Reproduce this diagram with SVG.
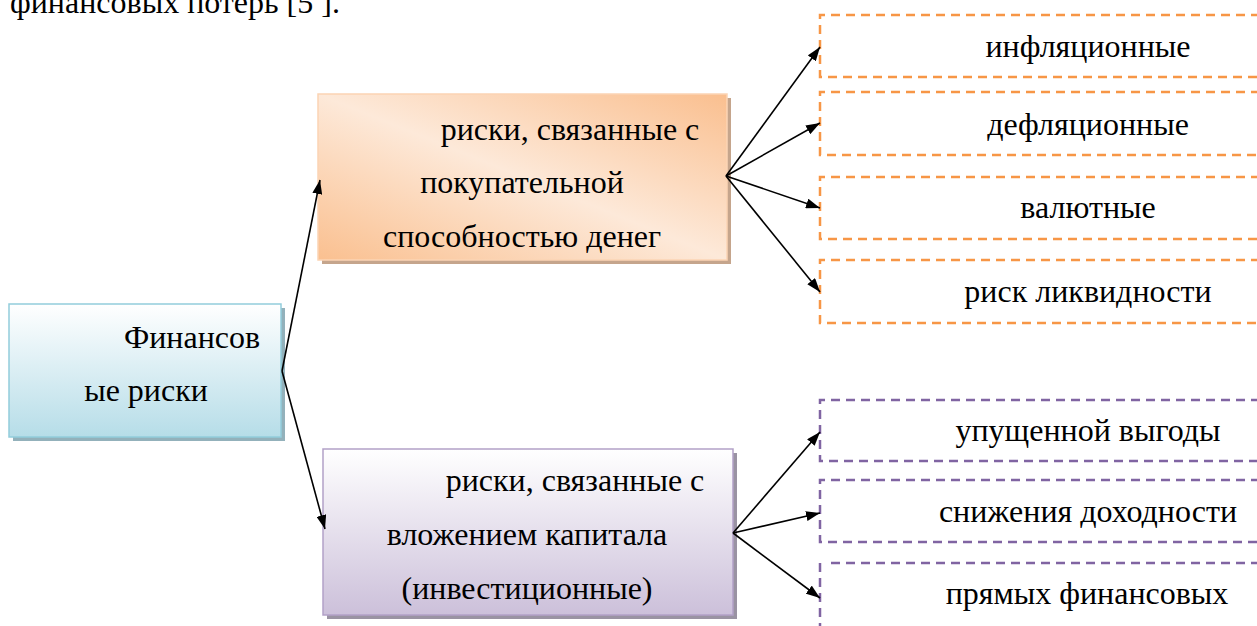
<svg xmlns="http://www.w3.org/2000/svg" width="1257" height="626" viewBox="0 0 1257 626">
<defs>
<linearGradient id="gBlue" x1="0" y1="0" x2="0" y2="1">
<stop offset="0" stop-color="#ffffff"/><stop offset="1" stop-color="#b6dde8"/>
</linearGradient>
<linearGradient id="gOrange" x1="1" y1="0" x2="0" y2="1">
<stop offset="0" stop-color="#fabf8f"/><stop offset="0.5" stop-color="#fde9d9"/><stop offset="1" stop-color="#fac090"/>
</linearGradient>
<linearGradient id="gPurple" x1="0" y1="0" x2="0" y2="1">
<stop offset="0" stop-color="#ffffff"/><stop offset="1" stop-color="#ccc0da"/>
</linearGradient>
<marker id="arr" viewBox="0 0 14 10" refX="14" refY="5" markerWidth="14" markerHeight="10" markerUnits="userSpaceOnUse" orient="auto">
<path d="M0,0 L14,5 L0,10 z" fill="#000"/>
</marker>
<style>
text{font-family:'Liberation Serif','Times New Roman',serif;font-size:32px;fill:#000}
.c{text-anchor:middle}
.conn{stroke:#000;stroke-width:1.6;fill:none;marker-end:url(#arr)}
.dO{fill:none;stroke:#f79646;stroke-width:2.5;stroke-dasharray:9 6}
.dP{fill:none;stroke:#8064a2;stroke-width:2.5;stroke-dasharray:9 6}
</style>
</defs>
<rect width="1257" height="626" fill="#fff"/>
<text x="10" y="13">финансовых потерь [5 ].</text>

<g id="node-fin">
<rect x="13" y="308" width="272" height="133" fill="#93b1bb"/>
<rect x="9" y="304" width="272" height="133" fill="url(#gBlue)" stroke="#92cddc" stroke-width="1.5"/>
<text x="192" y="348" class="c">Финансов</text>
<text x="146" y="401" class="c">ые риски</text>
</g>

<g id="node-purchase">
<rect x="322" y="98" width="409" height="166" fill="#c5a58c"/>
<rect x="318" y="94" width="409" height="166" fill="url(#gOrange)" stroke="#fbd4b4" stroke-width="1.5"/>
<text x="570" y="140" class="c">риски, связанные с</text>
<text x="522" y="193" class="c">покупательной</text>
<text x="522" y="247" class="c">способностью денег</text>
</g>

<g id="node-invest">
<rect x="327" y="453" width="410" height="166" fill="#9a93a3"/>
<rect x="323" y="449" width="410" height="166" fill="url(#gPurple)" stroke="#b2a1c7" stroke-width="1.5"/>
<text x="575" y="491" class="c">риски, связанные с</text>
<text x="527" y="545" class="c">вложением капитала</text>
<text x="527" y="599" class="c">(инвестиционные)</text>
</g>

<g id="node-infl"><path class="dO" d="M1260,15 H820 V77 H1260"/><text x="1088" y="57" class="c">инфляционные</text></g>
<g id="node-defl"><path class="dO" d="M1260,92 H820 V155 H1260"/><text x="1088" y="135" class="c">дефляционные</text></g>
<g id="node-val"><path class="dO" d="M1260,177 H820 V239 H1260"/><text x="1088" y="218" class="c">валютные</text></g>
<g id="node-liq"><path class="dO" d="M1260,260 H820 V323 H1260"/><text x="1088" y="302" class="c">риск ликвидности</text></g>
<g id="node-lost"><path class="dP" d="M1260,400 H820 V461 H1260"/><text x="1088" y="441" class="c">упущенной выгоды</text></g>
<g id="node-yield"><path class="dP" d="M1260,480 H820 V542 H1260"/><text x="1088" y="522" class="c">снижения доходности</text></g>
<g id="node-direct"><path class="dP" d="M1260,563 H826 M820,563 V630"/><text x="1087" y="604" class="c">прямых финансовых</text></g>

<g id="connectors">
<line class="conn" x1="282" y1="371" x2="320" y2="180"/>
<line class="conn" x1="282" y1="371" x2="325" y2="529"/>
<line class="conn" x1="726" y1="176" x2="820" y2="47"/>
<line class="conn" x1="726" y1="176" x2="820" y2="123"/>
<line class="conn" x1="726" y1="176" x2="820" y2="208"/>
<line class="conn" x1="726" y1="176" x2="820" y2="292"/>
<line class="conn" x1="733" y1="533" x2="820" y2="432"/>
<line class="conn" x1="733" y1="533" x2="820" y2="513"/>
<line class="conn" x1="733" y1="533" x2="820" y2="598"/>
</g>
</svg>
